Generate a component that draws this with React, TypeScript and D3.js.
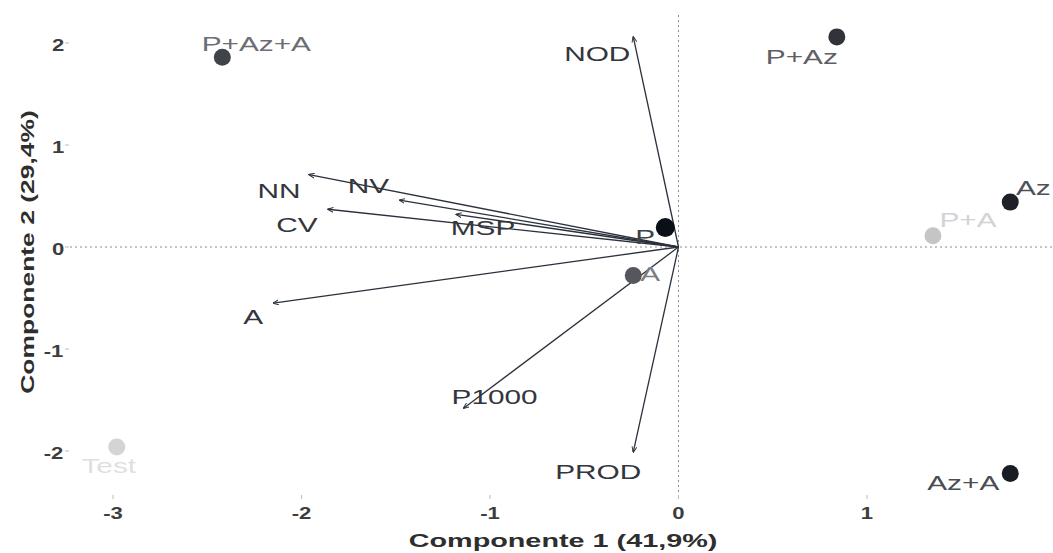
import { useRef, useEffect } from 'react';
import * as d3 from 'd3';

// Individuals (treatments): PC1, PC2 scores and representation quality (drives shade)
const indNames = ['P+Az+A', 'P+Az', 'Az', 'P+A', 'Az+A', 'Test', 'A', 'P'];
const indPC1 = [-2.42, 0.84, 1.76, 1.35, 1.76, -2.98, -0.24, -0.07];
const indPC2 = [1.86, 2.06, 0.44, 0.11, -2.22, -1.96, -0.28, 0.19];
const indQuality = [0.72, 0.8, 0.9, 0.12, 0.93, 0.06, 0.62, 1.0];

// Variables: arrow tips on PC1, PC2
const varNames = ['NOD', 'NN', 'NV', 'CV', 'MSP', 'A', 'P1000', 'PROD'];
const varPC1 = [-0.24, -1.96, -1.48, -1.86, -1.18, -2.15, -1.14, -0.24];
const varPC2 = [2.06, 0.71, 0.46, 0.37, 0.32, -0.55, -1.58, -2.01];

const xTicks = [-3, -2, -1, 0, 1];
const yTicks = [-2, -1, 0, 1, 2];
const xTitle = 'Componente 1 (41,9%)';
const yTitle = 'Componente 2 (29,4%)';

// label placement (pixel nudges, like ggrepel output)
const indNudge: Record<string, [number, number]> = {
  'P+Az+A': [34, -14],
  'P+Az': [-35, 20],
  Az: [23, -14],
  'P+A': [35, -16],
  'Az+A': [-47, 9],
  Test: [-8, 19],
  A: [17, -2],
  P: [-20, 9],
};
const varNudge: Record<string, [number, number]> = {
  NOD: [-36, 17],
  NN: [-30, 16],
  NV: [-31, -14],
  CV: [-31, 15],
  MSP: [27, 13],
  A: [-20, 14],
  P1000: [31, -11],
  PROD: [-35, 20],
};

const FONT = "'Liberation Sans', Arial, sans-serif";

export default function App() {
  const ref = useRef<HTMLDivElement>(null);

  useEffect(() => {
    const container = ref.current;
    if (!container) return;
    d3.select(container).select('svg').remove();

    const width = 1053;
    const height = 553;
    const panel = { left: 70, right: 1053, top: 12, bottom: 495 };

    const svg = d3
      .select(container)
      .append('svg')
      .attr('width', width)
      .attr('height', height)
      .style('position', 'absolute')
      .style('left', 0)
      .style('top', 0)
      .style('background', '#fff');

    const x = d3.scaleLinear().domain([-3, 1]).range([113, 867]);
    const y = d3.scaleLinear().domain([-2, 2]).range([451, 43]);

    const shade = d3
      .scaleLinear<string>()
      .domain([0, 1])
      .range(['#e2e2e2', '#0b0f18'])
      .interpolate(d3.interpolateLab);

    const stretchText = (
      g: d3.Selection<SVGGElement, unknown, null, undefined>,
      px: number,
      py: number,
      txt: string,
      size: number,
      sx: number,
      fill: string,
      weight = 'normal',
      rotate = 0
    ) => {
      g.append('text')
        .attr('transform', `translate(${px},${py}) rotate(${rotate}) scale(${sx},1)`)
        .attr('text-anchor', 'middle')
        .attr('dominant-baseline', 'central')
        .attr('font-family', FONT)
        .attr('font-size', size)
        .attr('font-weight', weight)
        .attr('fill', fill)
        .text(txt);
    };

    const root = svg.append('g');

    // reference lines
    root
      .append('line')
      .attr('x1', panel.left)
      .attr('x2', panel.right)
      .attr('y1', y(0))
      .attr('y2', y(0))
      .attr('stroke', '#8a8a8a')
      .attr('stroke-width', 1)
      .attr('stroke-dasharray', '2 3');
    root
      .append('line')
      .attr('x1', x(0))
      .attr('x2', x(0))
      .attr('y1', panel.top + 3)
      .attr('y2', panel.bottom)
      .attr('stroke', '#8a8a8a')
      .attr('stroke-width', 1)
      .attr('stroke-dasharray', '2 3');

    // axes ticks + labels
    xTicks.forEach((t) => {
      root
        .append('line')
        .attr('x1', x(t))
        .attr('x2', x(t))
        .attr('y1', panel.bottom)
        .attr('y2', panel.bottom + 4)
        .attr('stroke', '#bbb');
      stretchText(root, x(t), 513, String(t), 17, 1.3, '#3d3d3d', 'bold');
    });
    yTicks.forEach((t) => {
      root
        .append('line')
        .attr('x1', panel.left - 5)
        .attr('x2', panel.left - 1)
        .attr('y1', y(t))
        .attr('y2', y(t))
        .attr('stroke', '#bbb');
      const lbl = String(t);
      const w = lbl.length * 9.5;
      stretchText(root, panel.left - 7 - w / 2, y(t) + 2, lbl, 17, 1.3, '#3d3d3d', 'bold');
    });

    stretchText(root, 563, 541, xTitle, 18, 1.6, '#2e2e2e', 'bold');
    stretchText(root, 28, 252, yTitle, 18, 1.47, '#2e2e2e', 'bold', -90);

    // arrowhead marker
    const defs = svg.append('defs');
    defs
      .append('marker')
      .attr('id', 'arrowhead')
      .attr('viewBox', '0 0 10 10')
      .attr('refX', 9)
      .attr('refY', 5)
      .attr('markerWidth', 6)
      .attr('markerHeight', 6)
      .attr('markerUnits', 'userSpaceOnUse')
      .attr('orient', 'auto')
      .append('path')
      .attr('d', 'M0,1 L10,5 L0,9')
      .attr('fill', 'none')
      .attr('stroke', '#2a313c')
      .attr('stroke-width', 1.6);

    // variable arrows
    varNames.forEach((name, i) => {
      root
        .append('line')
        .attr('x1', x(0))
        .attr('y1', y(0))
        .attr('x2', x(varPC1[i]))
        .attr('y2', y(varPC2[i]))
        .attr('stroke', '#2a313c')
        .attr('stroke-width', 1.3)
        .attr('marker-end', 'url(#arrowhead)');
    });

    // individuals
    indNames.forEach((name, i) => {
      const c = shade(indQuality[i]);
      root
        .append('circle')
        .attr('cx', x(indPC1[i]))
        .attr('cy', y(indPC2[i]))
        .attr('r', name === 'P' ? 9.5 : 8.5)
        .attr('fill', c);
    });
    indNames.forEach((name, i) => {
      const c = d3.interpolateLab(shade(indQuality[i]), '#ffffff')(0.25);
      const [dx, dy] = indNudge[name];
      stretchText(root, x(indPC1[i]) + dx, y(indPC2[i]) + dy, name, 21, 1.42, c);
    });

    // variable labels
    varNames.forEach((name, i) => {
      const [dx, dy] = varNudge[name];
      stretchText(root, x(varPC1[i]) + dx, y(varPC2[i]) + dy, name, 21, 1.42, '#33363c');
    });
  }, []);

  return <div ref={ref} />;
}
